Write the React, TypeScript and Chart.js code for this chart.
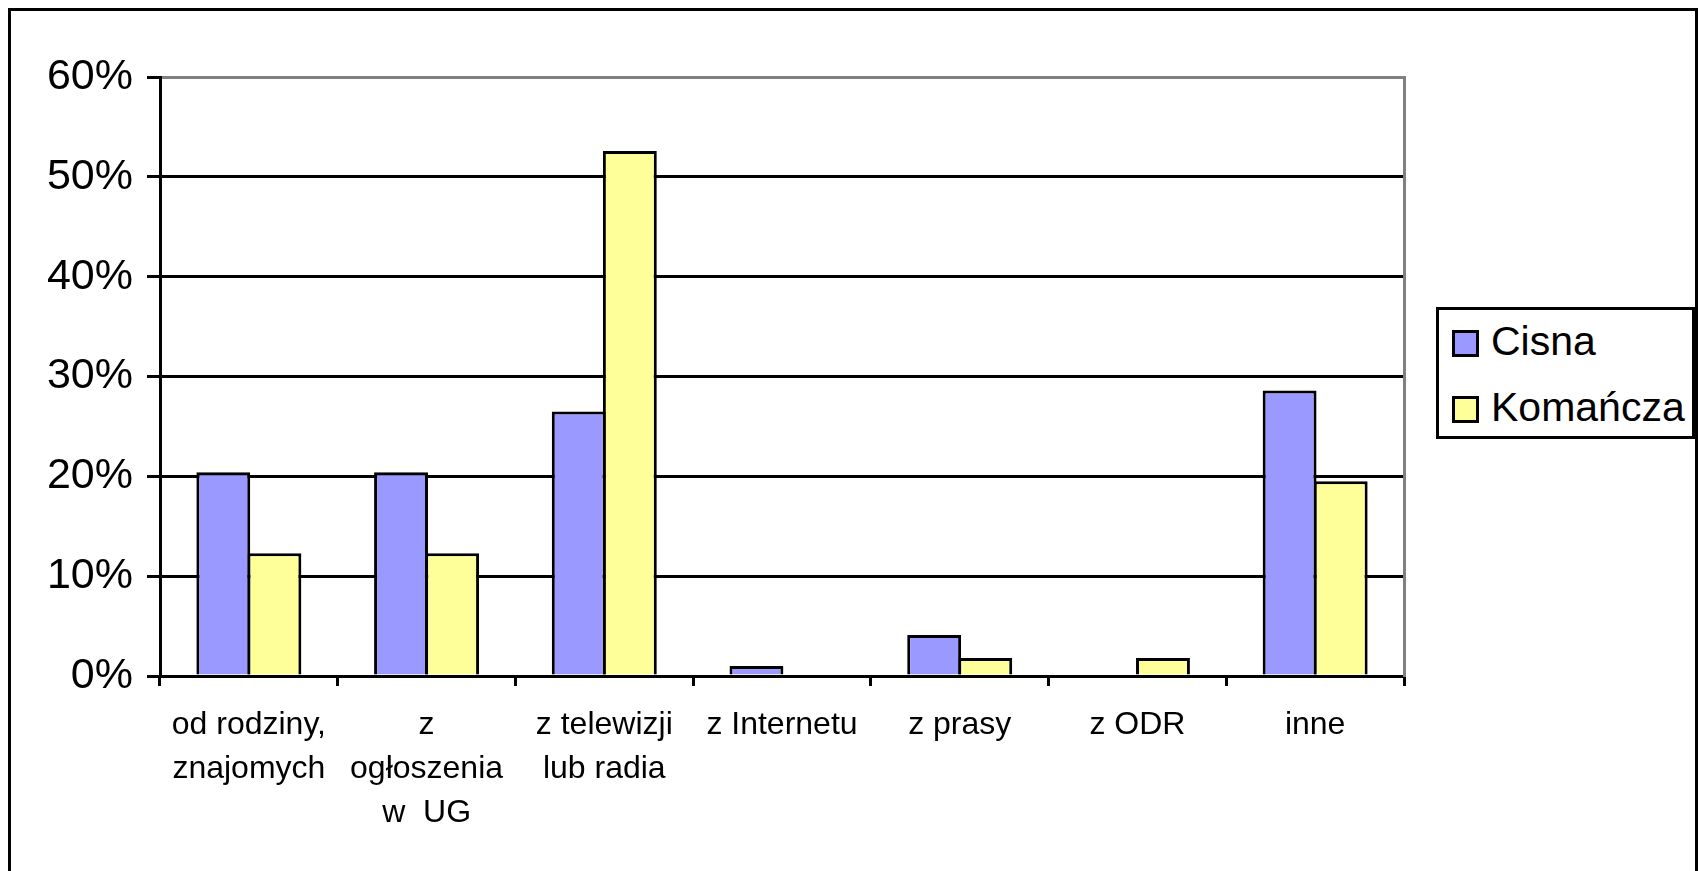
import React, { useEffect, useRef } from 'react';
import { Chart, registerables } from 'chart.js';

Chart.register(...registerables);

const categories: (string | string[])[] = [
  ['od rodziny,', 'znajomych'],
  ['z', 'ogłoszenia', 'w  UG'],
  ['z telewizji', 'lub radia'],
  'z Internetu',
  'z prasy',
  'z ODR',
  'inne',
];
const seriesNames = ['Cisna', 'Komańcza'];
const cisnaValues = [20.4, 20.4, 26.5, 1.0, 4.1, 0, 28.6];
const komanczaValues = [12.3, 12.3, 52.6, 0, 1.8, 1.8, 19.5];
const seriesColors = ['#9999FF', '#FFFF99'];
const yMin = 0;
const yMax = 60;
const yStep = 10;

const FONT = '"Liberation Sans", Arial, sans-serif';

export default function App() {
  const canvasRef = useRef<HTMLCanvasElement | null>(null);

  useEffect(() => {
    const canvas = canvasRef.current;
    if (!canvas) return;
    const chart = new Chart(canvas, {
      type: 'bar',
      data: {
        labels: categories,
        datasets: [
          {
            label: seriesNames[0],
            data: cisnaValues,
            backgroundColor: seriesColors[0],
            borderColor: '#000000',
            borderWidth: 3,
            borderSkipped: 'start',
          },
          {
            label: seriesNames[1],
            data: komanczaValues,
            backgroundColor: seriesColors[1],
            borderColor: '#000000',
            borderWidth: 3,
            borderSkipped: 'start',
          },
        ],
      },
      options: {
        responsive: false,
        animation: false,
        events: [],
        layout: { padding: { left: 0, right: 291, top: 66, bottom: 0 } },
        datasets: { bar: { categoryPercentage: 0.575, barPercentage: 1.055 } },
        plugins: {
          legend: { display: false },
          tooltip: { enabled: false },
          title: { display: false },
        },
        scales: {
          x: {
            type: 'category',
            offset: true,
            grid: {
              display: true,
              offset: true,
              drawOnChartArea: false,
              drawTicks: true,
              tickLength: 10,
              tickWidth: 3,
              tickColor: '#000000',
              color: '#000000',
              lineWidth: 3,
            },
            border: { display: true, color: '#000000', width: 3 },
            ticks: {
              color: '#000000',
              font: { family: FONT, size: 32, lineHeight: 1.38 },
              padding: 17,
              maxRotation: 0,
              minRotation: 0,
              autoSkip: false,
            },
            afterFit: (scale: any) => {
              scale.height = 195;
            },
          },
          y: {
            type: 'linear',
            position: 'left',
            min: yMin,
            max: yMax,
            ticks: {
              stepSize: yStep,
              color: '#000000',
              font: { family: FONT, size: 43 },
              padding: 14,
              callback: (v: any) => `${v}%`,
            },
            grid: {
              display: true,
              drawOnChartArea: true,
              drawTicks: true,
              tickLength: 13,
              color: (ctx: any) => (ctx.tick && ctx.tick.value === yMax ? '#808080' : '#000000'),
              tickColor: '#000000',
              lineWidth: 3,
              tickWidth: 3,
            },
            border: { display: true, color: '#000000', width: 3 },
            afterFit: (scale: any) => {
              scale.width = 149;
            },
          },
          y2: {
            type: 'linear',
            position: 'right',
            min: yMin,
            max: yMax,
            ticks: { display: false },
            grid: { display: false, drawTicks: false, drawOnChartArea: false },
            border: { display: true, color: '#808080', width: 3 },
            afterFit: (scale: any) => {
              scale.width = 0;
            },
          },
        },
      },
    });
    return () => chart.destroy();
  }, []);

  const swatch = (color: string, top: number) => ({
    position: 'absolute' as const,
    left: 13,
    top,
    width: 27,
    height: 27,
    boxSizing: 'border-box' as const,
    border: '3px solid #000',
    background: color,
  });
  const label = (top: number) => ({
    position: 'absolute' as const,
    left: 52,
    top,
    fontFamily: FONT,
    fontSize: 41,
    lineHeight: '48px',
    color: '#000',
    whiteSpace: 'nowrap' as const,
  });

  return (
    <div
      style={{
        position: 'fixed',
        left: 8,
        top: 8,
        width: 1690,
        height: 863,
        boxSizing: 'border-box',
        borderTop: '3px solid #000',
        borderLeft: '3px solid #000',
        borderRight: '3px solid #000',
        borderBottom: 'none',
        background: '#fff',
      }}
    >
      <canvas
        ref={canvasRef}
        width={1684}
        height={860}
        style={{ position: 'absolute', left: 0, top: 0, width: 1684, height: 860 }}
      />
      <div
        style={{
          position: 'absolute',
          left: 1425,
          top: 296,
          width: 259,
          height: 132,
          boxSizing: 'border-box',
          border: '3px solid #000',
          background: '#fff',
        }}
      >
        <div style={swatch(seriesColors[0], 20)} />
        <div style={label(7)}>{seriesNames[0]}</div>
        <div style={swatch(seriesColors[1], 86)} />
        <div style={label(73)}>{seriesNames[1]}</div>
      </div>
    </div>
  );
}
